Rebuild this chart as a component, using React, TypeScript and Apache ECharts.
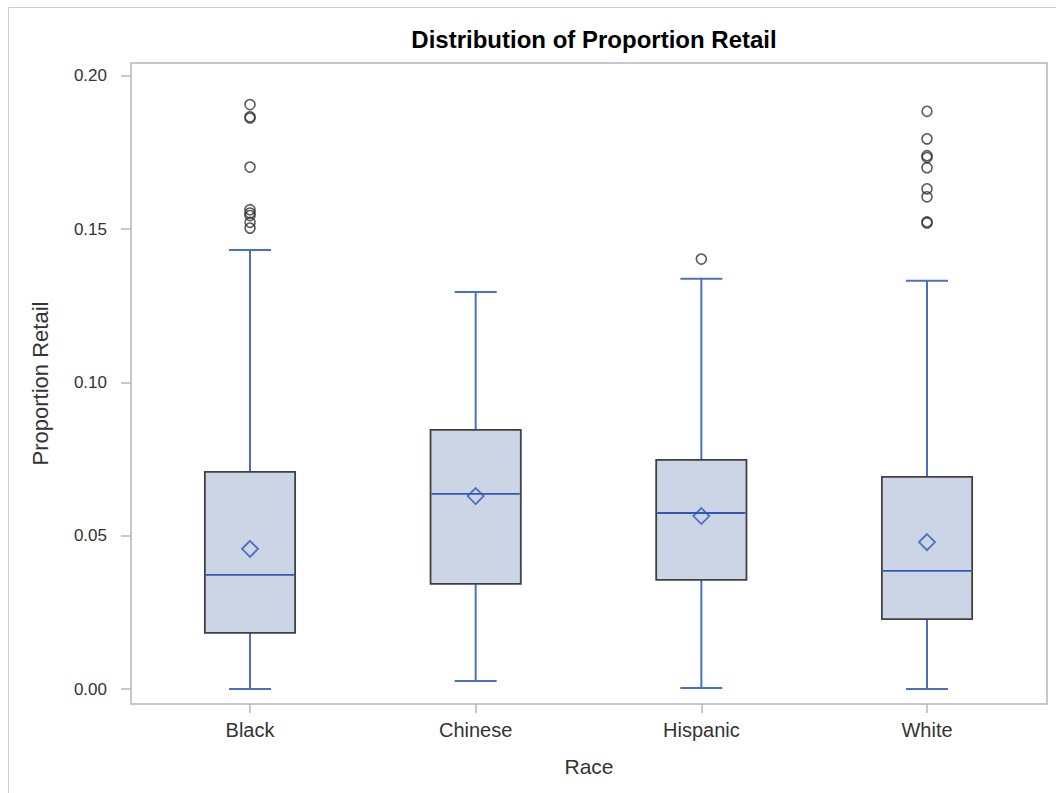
import React, { useEffect, useRef } from "react";
import * as echarts from "echarts";

const categories = ["Black", "Chinese", "Hispanic", "White"];
const lowerWhisker = [0.0, 0.0026, 0.0003, 0.0];
const q1 = [0.0183, 0.0343, 0.0356, 0.0228];
const median = [0.0372, 0.0636, 0.0574, 0.0385];
const q3 = [0.0708, 0.0845, 0.0747, 0.0692];
const upperWhisker = [0.1432, 0.1295, 0.1338, 0.1331];
const means = [0.0457, 0.0629, 0.0564, 0.0479];
const outliersBlack = [0.1906, 0.1866, 0.1862, 0.1702, 0.1563, 0.1552, 0.1544, 0.1522, 0.1503];
const outliersChinese: number[] = [];
const outliersHispanic = [0.1402];
const outliersWhite = [0.1884, 0.1794, 0.1739, 0.1733, 0.1700, 0.1631, 0.1605, 0.1523, 0.152];
const yTicks = [0, 0.05, 0.1, 0.15, 0.2];

const outlierLists = [outliersBlack, outliersChinese, outliersHispanic, outliersWhite];

export default function App() {
  const ref = useRef<HTMLDivElement>(null);
  useEffect(() => {
    if (!ref.current) return;
    const chart = echarts.init(ref.current, null, { renderer: "svg" });
    const boxData = categories.map((_, i) => [i, lowerWhisker[i], q1[i], median[i], q3[i], upperWhisker[i]]);
    const meanData = categories.map((_, i) => [i, means[i]]);
    const outData: number[][] = [];
    outlierLists.forEach((list, i) => list.forEach((v) => outData.push([i, v])));
    const blue = "#4a6fc6";
    const font = "Liberation Sans";
    chart.setOption({
      animation: false,
      backgroundColor: "#ffffff",
      title: {
        text: "Distribution of Proportion Retail",
        left: 589,
        top: 22,
        textAlign: "center",
        textStyle: { fontFamily: font, fontWeight: "bold", fontSize: 24, color: "#000" },
      },
      graphic: [
        {
          type: "polyline",
          shape: { points: [[1060, 7.5], [8.5, 7.5], [8.5, 800]] },
          style: { stroke: "#cfcfcf", lineWidth: 1, fill: "none" },
          silent: true,
        },
      ],
      grid: {
        left: 131,
        right: 9,
        top: 63,
        bottom: 89,
        show: true,
        borderColor: "#b4b7bb",
        borderWidth: 1.5,
        backgroundColor: "transparent",
      },
      xAxis: {
        type: "value",
        min: -0.5273,
        max: 3.5317,
        name: "Race",
        nameLocation: "middle",
        nameGap: 52,
        nameTextStyle: { fontFamily: font, fontSize: 21, color: "#333" },
        axisLine: { show: false, onZero: false },
        splitLine: { show: false },
        axisTick: { show: true, length: 9, customValues: [0, 1, 2, 3], lineStyle: { color: "#b4b7bb", width: 1.5 } },
        axisLabel: {
          customValues: [0, 1, 2, 3],
          formatter: (v: number) => categories[Math.round(v)],
          margin: 16,
          fontFamily: font,
          fontSize: 20,
          color: "#333",
        },
      },
      yAxis: {
        type: "value",
        min: -0.00489,
        max: 0.20414,
        name: "Proportion Retail",
        nameLocation: "middle",
        nameGap: 80,
        nameTextStyle: { fontFamily: font, fontSize: 22, color: "#333" },
        axisLine: { show: false, onZero: false },
        splitLine: { show: false },
        axisTick: { show: true, length: 10, customValues: yTicks, lineStyle: { color: "#b4b7bb", width: 1.5 } },
        axisLabel: {
          customValues: yTicks,
          formatter: (v: number) => v.toFixed(2),
          margin: 24,
          fontFamily: font,
          fontSize: 17,
          color: "#333",
        },
      },
      series: [
        {
          type: "custom",
          data: boxData,
          encode: { x: 0, y: [1, 2, 3, 4, 5] },
          renderItem: (params: any, api: any) => {
            const idx = api.value(0);
            const unit = api.size([1, 0])[0];
            const bw = unit * 0.4;
            const cw = unit * 0.186;
            const pLow = api.coord([idx, api.value(1)]);
            const pQ1 = api.coord([idx, api.value(2)]);
            const pMed = api.coord([idx, api.value(3)]);
            const pQ3 = api.coord([idx, api.value(4)]);
            const pHigh = api.coord([idx, api.value(5)]);
            const cx = pLow[0];
            const lineStyle = { stroke: blue, lineWidth: 2 };
            return {
              type: "group",
              children: [
                { type: "line", shape: { x1: cx, y1: pHigh[1], x2: cx, y2: pQ3[1] }, style: lineStyle },
                { type: "line", shape: { x1: cx, y1: pQ1[1], x2: cx, y2: pLow[1] }, style: lineStyle },
                { type: "line", shape: { x1: cx - cw / 2, y1: pHigh[1], x2: cx + cw / 2, y2: pHigh[1] }, style: lineStyle },
                { type: "line", shape: { x1: cx - cw / 2, y1: pLow[1], x2: cx + cw / 2, y2: pLow[1] }, style: lineStyle },
                {
                  type: "rect",
                  shape: { x: cx - bw / 2, y: pQ3[1], width: bw, height: pQ1[1] - pQ3[1] },
                  style: { fill: "#cbd5e5", stroke: "#404040", lineWidth: 1.8 },
                },
                {
                  type: "line",
                  shape: { x1: cx - bw / 2 + 1, y1: pMed[1], x2: cx + bw / 2 - 1, y2: pMed[1] },
                  style: { stroke: "#3158b8", lineWidth: 1.8 },
                },
              ],
            };
          },
          z: 2,
        },
        {
          type: "scatter",
          data: meanData,
          symbol: "diamond",
          symbolSize: 16,
          itemStyle: { color: "rgba(0,0,0,0)", borderColor: "#3158b8", borderWidth: 1.8 },
          z: 3,
        },
        {
          type: "scatter",
          data: outData,
          symbol: "circle",
          symbolSize: 10,
          itemStyle: { color: "rgba(0,0,0,0)", borderColor: "#333333", borderWidth: 1.6 },
          z: 3,
        },
      ],
    });
    return () => chart.dispose();
  }, []);
  return (
    <div
      ref={ref}
      style={{ position: "absolute", left: 0, top: 0, width: 1056, height: 793 }}
    />
  );
}
